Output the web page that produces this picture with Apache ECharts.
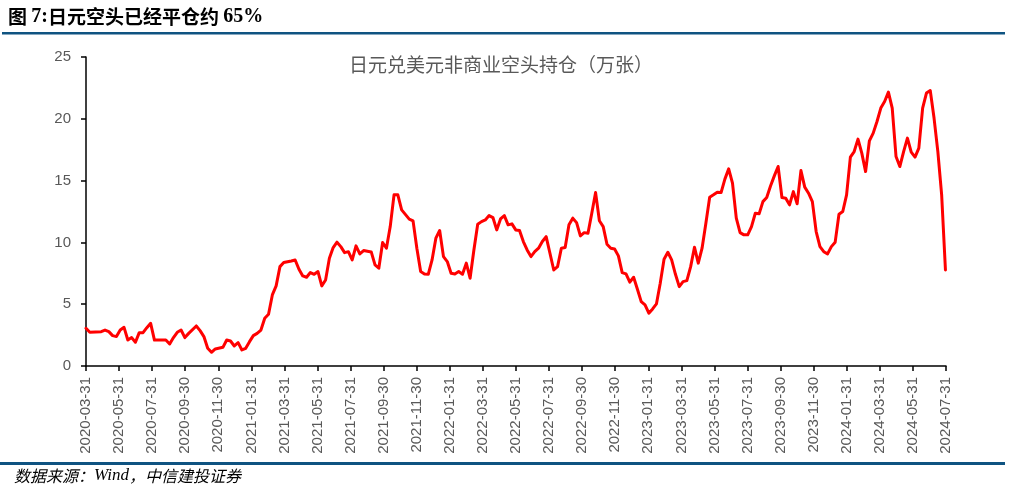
<!DOCTYPE html>
<html>
<head>
<meta charset="utf-8">
<script src="https://cdn.jsdelivr.net/npm/echarts@6/dist/echarts.min.js"></script>
<style>
html,body{margin:0;padding:0;background:#fff;}
#chart{width:1024px;height:485px;}
</style>
</head>
<body>
<div id="chart"></div>
<script>
// ---- data ----
const startDate = '2020-03-31';           // first CFTC week
const endDate = '2024-07-31';             // axis end
// week offsets (from startDate) of the traced points
const weeks = [0,1,4,5,6,7,8,9,10,11,12,13,14,15,16,17,18,21,22,23,24,25,26,27,29,30,31,32,33,34,36,37,38,39,40,41,42,43,44,45,46,47,48,49,50,51,52,54,55,56,57,58,59,60,61,62,63,64,65,66,67,68,69,70,71,72,73,75,76,77,78,79,80,81,82,83,85,86,87,88,89,90,91,92,93,94,95,96,97,98,99,100,101,102,103,104,105,106,107,108,109,110,111,112,113,114,115,116,117,118,119,120,121,122,123,124,125,126,127,128,129,130,131,132,133,134,135,136,137,138,139,140,141,142,143,144,145,146,147,148,149,150,151,152,153,154,155,156,157,158,159,160,161,162,163,164,165,166,167,168,169,170,171,172,173,174,175,176,177,178,179,180,181,182,183,184,185,186,187,188,189,190,191,192,193,194,195,196,197,198,199,200,201,202,203,204,205,206,207,208,209,210,211,212,213,214,215,216,217,218,219,220,221,222,223,224,225,226];
// 日元兑美元非商业空头持仓（万张）
const shortPositions = [3.05,2.73,2.78,2.91,2.78,2.46,2.38,2.91,3.13,2.1,2.3,1.92,2.7,2.7,3.1,3.45,2.1,2.1,1.78,2.3,2.73,2.91,2.3,2.64,3.24,2.86,2.38,1.43,1.11,1.38,1.51,2.1,2.02,1.62,1.89,1.3,1.43,1.97,2.46,2.64,2.91,3.86,4.18,5.75,6.48,8.04,8.37,8.5,8.58,7.83,7.29,7.18,7.56,7.42,7.64,6.48,6.96,8.72,9.58,10.02,9.66,9.17,9.25,8.58,9.72,9.07,9.34,9.23,8.18,7.91,9.99,9.53,11.28,13.85,13.85,12.63,11.88,11.74,9.53,7.64,7.45,7.42,8.58,10.34,10.96,8.85,8.45,7.51,7.45,7.64,7.42,8.32,7.1,9.39,11.47,11.68,11.82,12.17,12.01,11.01,11.9,12.17,11.42,11.5,11.01,10.96,10.07,9.39,8.85,9.25,9.53,10.07,10.47,9.12,7.77,8.04,9.53,9.58,11.42,11.96,11.6,10.53,10.79,10.74,12.36,14.03,11.75,11.28,9.85,9.53,9.47,8.91,7.56,7.45,6.78,7.18,6.21,5.21,4.94,4.27,4.62,5.02,6.7,8.64,9.2,8.58,7.42,6.42,6.83,6.91,8.04,9.61,8.32,9.53,11.55,13.66,13.85,14.06,14.03,15.12,15.95,14.79,11.96,10.79,10.61,10.61,11.28,12.36,12.31,13.3,13.63,14.57,15.38,16.14,13.63,13.58,13.04,14.11,13.12,15.81,14.47,13.98,13.3,10.88,9.66,9.25,9.07,9.66,10.02,12.28,12.5,13.85,16.9,17.35,18.36,17.22,15.73,18.22,18.84,19.78,20.87,21.4,22.16,20.87,16.95,16.14,17.35,18.44,17.3,16.9,17.63,20.87,22.08,22.29,20.06,17.35,13.85,7.77];
const xTickLabels = ['2020-03-31','2020-05-31','2020-07-31','2020-09-30','2020-11-30',
  '2021-01-31','2021-03-31','2021-05-31','2021-07-31','2021-09-30','2021-11-30',
  '2022-01-31','2022-03-31','2022-05-31','2022-07-31','2022-09-30','2022-11-30',
  '2023-01-31','2023-03-31','2023-05-31','2023-07-31','2023-09-30','2023-11-30',
  '2024-01-31','2024-03-31','2024-05-31','2024-07-31'];
const yTicks = [0,5,10,15,20,25];
const chartTitle = '日元兑美元非商业空头持仓（万张）';
const headerTitle = ['图 ', '7:', '日元空头已经平仓约 ', '65%'];
const sourceNote = ['数据来源：', 'Wind', '，中信建投证券'];

// ---- build ----
function utc(s){const p=s.split('-').map(Number);return Date.UTC(p[0],p[1]-1,p[2]);}
const t0 = utc(startDate);
const DAY = 86400000;
const seriesData = weeks.map((w,i)=>[t0 + w*7*DAY, shortPositions[i]]);

const chart = echarts.init(document.getElementById('chart'), null, {renderer:'canvas'});
const gridL = 86, gridR = 78, gridT = 57, gridB = 119;
const axisFont = "'Liberation Sans', Arial, sans-serif";
chart.setOption({
  animation:false,
  backgroundColor:'#ffffff',
  grid:{left:gridL,right:gridR,top:gridT,bottom:gridB,containLabel:false},
  xAxis:[{
    type:'time', min:utc(startDate), max:utc(endDate), position:'bottom',
    axisLine:{show:true,lineStyle:{color:'#000',width:1.5}},
    axisTick:{show:false}, axisLabel:{show:false}, splitLine:{show:false}
  },{
    type:'category', data:xTickLabels, boundaryGap:false, position:'bottom', offset:0,
    axisLine:{show:false},
    axisTick:{show:true,interval:0,length:5,inside:false,lineStyle:{color:'#000',width:1.5}},
    axisLabel:{interval:0,rotate:90,margin:11,color:'#595959',fontSize:15,fontFamily:axisFont},
    splitLine:{show:false}
  }],
  yAxis:{
    type:'value', min:yTicks[0], max:yTicks[yTicks.length-1], interval:yTicks[1]-yTicks[0],
    axisLine:{show:true,lineStyle:{color:'#000',width:1.5}},
    axisTick:{show:true,length:5,lineStyle:{color:'#000',width:1.5}},
    axisLabel:{color:'#595959',fontSize:15,fontFamily:axisFont,margin:15},
    splitLine:{show:false}
  },
  series:[{
    type:'line', xAxisIndex:0, data:seriesData, showSymbol:false, smooth:false,
    lineStyle:{color:'#FF0000',width:3,join:'round',cap:'round'}
  }],
  graphic:[
    {type:'text', left:8, top:7, style:{
      text:'{a|'+headerTitle[0]+'}{b|'+headerTitle[1]+'}{a|'+headerTitle[2]+'}{b|'+headerTitle[3]+'}',
      rich:{
        a:{fontFamily:"'Noto Sans CJK SC', sans-serif",fontWeight:'bold',fontSize:19,fill:'#000'},
        b:{fontFamily:"'Liberation Serif', 'Times New Roman', serif",fontWeight:'bold',fontSize:20,fill:'#000'}
      }}},
    {type:'rect', shape:{x:2,y:32,width:1003,height:2.5}, style:{fill:'#0F5381'}},
    {type:'text', x:501, y:65, style:{
      text:chartTitle, fontFamily:"'Noto Sans CJK SC', sans-serif", fontSize:19,
      fill:'#595959', align:'center', verticalAlign:'middle'}},
    {type:'rect', shape:{x:0,y:462,width:1005,height:3}, style:{fill:'#0F5381'}},
    {type:'text', left:14, top:467, style:{
      text:'{a|'+sourceNote[0]+'}{b|'+sourceNote[1]+'}{a|'+sourceNote[2]+'}',
      rich:{
        a:{fontFamily:"'Noto Sans CJK SC', sans-serif",fontStyle:'italic',fontSize:16,fill:'#000'},
        b:{fontFamily:"'Liberation Serif', 'Times New Roman', serif",fontStyle:'italic',fontSize:17,fill:'#000'}
      }}}
  ]
});
</script>
</body>
</html>
